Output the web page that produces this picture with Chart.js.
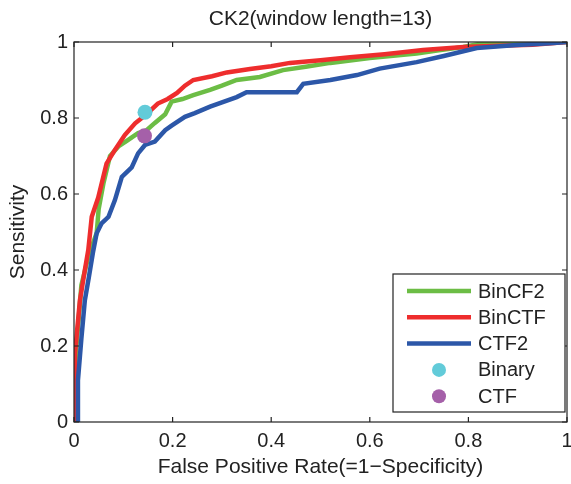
<!DOCTYPE html>
<html>
<head>
<meta charset="utf-8">
<script src="https://cdn.jsdelivr.net/npm/chart.js@4/dist/chart.umd.min.js"></script>
<style>
  html, body { margin: 0; padding: 0; background: #fff; }
  #wrap { width: 571px; height: 484px; }
</style>
</head>
<body>
<div id="wrap"><canvas id="roc"></canvas></div>
<script>
// ROC curves: [false positive rate, sensitivity]
const binCF2 = [[0, 0], [0.005, 0.2], [0.015, 0.36], [0.03, 0.44], [0.046, 0.497], [0.05, 0.56],
  [0.06, 0.63], [0.073, 0.70], [0.09, 0.725], [0.107, 0.74], [0.13, 0.76], [0.145, 0.765],
  [0.164, 0.787], [0.185, 0.81], [0.198, 0.843], [0.22, 0.85], [0.242, 0.86], [0.276, 0.874],
  [0.30, 0.885], [0.33, 0.90], [0.377, 0.908], [0.424, 0.926], [0.47, 0.935], [0.52, 0.945],
  [0.60, 0.958], [0.695, 0.97], [0.74, 0.978], [0.79, 0.987], [0.83, 0.997], [0.9, 1], [1, 1]];
const binCTF = [[0, 0], [0.002, 0.18], [0.012, 0.32], [0.022, 0.40], [0.029, 0.453], [0.036, 0.54],
  [0.049, 0.59], [0.066, 0.68], [0.083, 0.716], [0.103, 0.755], [0.124, 0.786], [0.147, 0.81],
  [0.17, 0.838], [0.19, 0.85], [0.209, 0.866], [0.225, 0.885], [0.242, 0.90], [0.28, 0.91],
  [0.31, 0.92], [0.357, 0.929], [0.40, 0.936], [0.438, 0.945], [0.50, 0.952], [0.56, 0.96],
  [0.63, 0.968], [0.708, 0.979], [0.79, 0.987], [0.86, 0.99], [0.93, 0.993], [1, 1]];
const ctf2 = [[0.008, 0], [0.008, 0.11], [0.015, 0.22], [0.022, 0.32], [0.03, 0.38], [0.039, 0.45],
  [0.046, 0.497], [0.056, 0.523], [0.07, 0.54], [0.083, 0.584], [0.097, 0.645], [0.117, 0.67],
  [0.13, 0.707], [0.144, 0.729], [0.164, 0.738], [0.185, 0.768], [0.198, 0.78], [0.225, 0.803],
  [0.245, 0.813], [0.276, 0.83], [0.33, 0.855], [0.35, 0.868], [0.452, 0.868], [0.465, 0.89],
  [0.52, 0.90], [0.574, 0.913], [0.62, 0.93], [0.695, 0.947], [0.75, 0.963], [0.817, 0.984],
  [0.898, 0.992], [0.965, 0.997], [1, 1]];
const binaryPoint = [[0.144, 0.815]];
const ctfPoint = [[0.143, 0.753]];

const seriesNames = ['BinCF2', 'BinCTF', 'CTF2', 'Binary', 'CTF'];
const seriesColors = ['#6cbd45', '#ee2d2d', '#2c57a8', '#62cbd9', '#a560a9'];
const tickValues = [0, 0.2, 0.4, 0.6, 0.8, 1];
const chartTitle = 'CK2(window length=13)';
const xTitle = 'False Positive Rate(=1\u2212Specificity)';
const yTitle = 'Sensitivity';

const FONT = '"Liberation Sans", Arial, Helvetica, sans-serif';
const toXY = arr => arr.map(p => ({ x: p[0], y: p[1] }));

function fmt(v) {
  return v === 0 ? '0' : v === 1 ? '1' : String(v);
}

// box, inward ticks, title and legend drawn like the MATLAB figure
const matlabFrame = {
  id: 'matlabFrame',
  afterDraw(chart) {
    const { ctx, chartArea: a, scales } = chart;
    ctx.save();
    ctx.strokeStyle = '#222';
    ctx.lineWidth = 1.2;
    ctx.strokeRect(a.left, a.top, a.right - a.left, a.bottom - a.top);
    const tl = 5;
    ctx.beginPath();
    for (const v of tickValues) {
      const px = scales.x.getPixelForValue(v);
      ctx.moveTo(px, a.bottom); ctx.lineTo(px, a.bottom - tl);
      ctx.moveTo(px, a.top); ctx.lineTo(px, a.top + tl);
      const py = scales.y.getPixelForValue(v);
      ctx.moveTo(a.left, py); ctx.lineTo(a.left + tl, py);
      ctx.moveTo(a.right, py); ctx.lineTo(a.right - tl, py);
    }
    ctx.stroke();

    // title
    ctx.fillStyle = '#222';
    ctx.font = '21px ' + FONT;
    ctx.textAlign = 'center';
    ctx.textBaseline = 'middle';
    ctx.fillText(chartTitle, (a.left + a.right) / 2, 19);

    // legend
    const box = { l: 393, t: 274, r: 565, b: 412 };
    ctx.fillStyle = '#fff';
    ctx.fillRect(box.l, box.t, box.r - box.l, box.b - box.t);
    ctx.strokeStyle = '#222';
    ctx.lineWidth = 1.2;
    ctx.strokeRect(box.l, box.t, box.r - box.l, box.b - box.t);
    ctx.font = '20px ' + FONT;
    ctx.textAlign = 'left';
    chart.data.datasets.forEach((ds, i) => {
      const y = 291 + i * 26.3;
      if (ds.showLine) {
        ctx.strokeStyle = ds.borderColor;
        ctx.lineWidth = 4.5;
        ctx.beginPath();
        ctx.moveTo(407, y); ctx.lineTo(471, y);
        ctx.stroke();
      } else {
        ctx.fillStyle = ds.backgroundColor;
        ctx.beginPath();
        ctx.arc(439, y, 7, 0, Math.PI * 2);
        ctx.fill();
      }
      ctx.fillStyle = '#222';
      ctx.fillText(ds.label, 478, y + 1);
    });
    ctx.restore();
  }
};

function lineSet(i, data, order) {
  return {
    label: seriesNames[i],
    data: toXY(data),
    showLine: true,
    borderColor: seriesColors[i],
    backgroundColor: seriesColors[i],
    borderWidth: 4.5,
    pointRadius: 0,
    tension: 0,
    order: order
  };
}

function pointSet(i, data) {
  return {
    label: seriesNames[i],
    data: toXY(data),
    showLine: false,
    backgroundColor: seriesColors[i],
    borderColor: seriesColors[i],
    borderWidth: 0,
    pointRadius: 7.5,
    order: 0
  };
}

new Chart(document.getElementById('roc'), {
  type: 'scatter',
  data: {
    datasets: [
      lineSet(0, binCF2, 3),
      lineSet(1, binCTF, 2),
      lineSet(2, ctf2, 1),
      pointSet(3, binaryPoint),
      pointSet(4, ctfPoint)
    ]
  },
  options: {
    responsive: true,
    maintainAspectRatio: false,
    animation: false,
    layout: { autoPadding: false, padding: { top: 42, right: 4, left: 0, bottom: 0 } },
    plugins: {
      legend: { display: false },
      title: { display: false },
      tooltip: { enabled: false }
    },
    scales: {
      x: {
        type: 'linear', min: 0, max: 1,
        afterBuildTicks: s => { s.ticks = tickValues.map(v => ({ value: v })); },
        afterFit: s => { s.height = 62; s.paddingLeft = 0; s.paddingRight = 0; },
        grid: { display: false, drawTicks: false },
        border: { display: false },
        ticks: { color: '#222', font: { size: 20, family: FONT }, padding: 7, maxRotation: 0, callback: fmt },
        title: { display: true, text: xTitle, color: '#222', font: { size: 21, family: FONT }, padding: { top: 0, bottom: 4 } }
      },
      y: {
        type: 'linear', min: 0, max: 1,
        afterBuildTicks: s => { s.ticks = tickValues.map(v => ({ value: v })); },
        afterFit: s => { s.width = 74; s.paddingTop = 0; s.paddingBottom = 0; },
        grid: { display: false, drawTicks: false },
        border: { display: false },
        ticks: { color: '#222', font: { size: 20, family: FONT }, padding: 6, callback: fmt },
        title: { display: true, text: yTitle, color: '#222', font: { size: 21, family: FONT }, padding: { top: 6, bottom: 0 } }
      }
    }
  },
  plugins: [matlabFrame]
});
</script>
</body>
</html>
